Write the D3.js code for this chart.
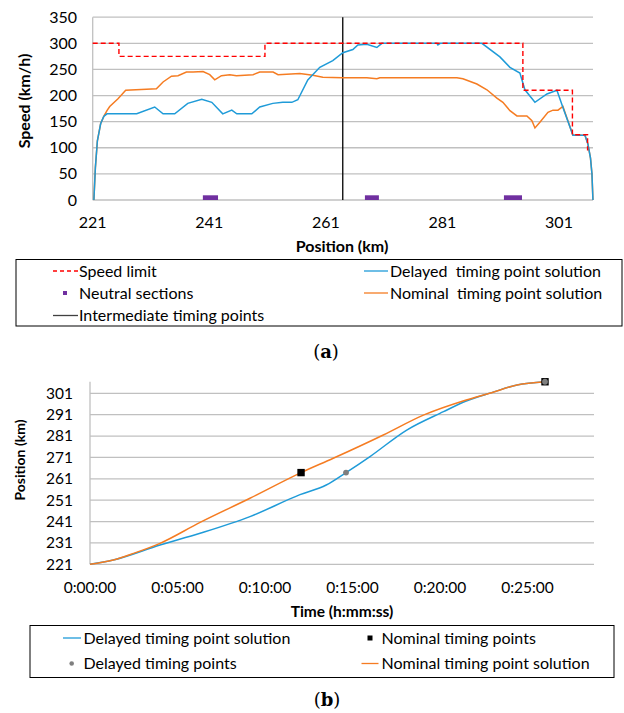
<!DOCTYPE html>
<html>
<head>
<meta charset="utf-8">
<script src="https://cdn.jsdelivr.net/npm/d3@7"></script>
<style>
  body { margin: 0; background: #fff; }
  text { font-family: Lato, "Open Sans", sans-serif; fill: #000; }
</style>
</head>
<body>
<svg id="chart" width="624" height="713"></svg>
<script>
// ---- (a) speed profile data ----
const speedTicks = [0, 50, 100, 150, 200, 250, 300, 350];
const posTicks = [221, 241, 261, 281, 301];

const limitKm = [221, 225.5, 250.55, 294.8, 303.3, 305.9];
const limitSpeed = [300, 275, 300, 210, 125, 95];

const neutralStart = [239.9, 267.7, 291.55];
const neutralEnd = [242.5, 270.1, 294.65];

const timingPointKm = [263.9];

const delayedKm = [221.2, 221.46, 221.8, 222.36, 222.9, 223.45, 228.55, 231.64, 233.07, 235.07, 237.31, 239.71, 241.43, 243.31, 244.86, 245.72, 248.29, 249.66, 251.9, 253.61, 255.16, 256.19, 257.9, 259.96, 262.19, 263.91, 265.63, 266.49, 268.03, 269.75, 270.61, 280.05, 280.22, 280.6, 287.77, 290.86, 292.58, 294.29, 295.15, 296.87, 298.93, 300.64, 301.67, 303.39, 305.45, 305.96, 306.4, 306.65, 306.82];
const delayedSpeed = [0, 62, 113, 146, 160, 165, 165, 178, 165, 165, 185, 193, 187, 165, 172, 165, 165, 178, 185, 187, 187, 192, 230, 254, 267, 282, 288, 297, 298, 292, 300, 300, 297, 300, 300, 274, 254, 243, 211, 187, 203, 210, 177, 124, 124, 107, 80, 50, 0];

const nominalKm = [221.2, 221.46, 221.8, 222.36, 222.9, 223.45, 223.92, 225.34, 226.66, 230.22, 231.93, 233.07, 234.51, 235.64, 237.08, 238.22, 239.93, 241.08, 241.94, 243.09, 244.52, 245.66, 248.51, 249.66, 251.95, 252.8, 256.53, 258.76, 260.48, 263.91, 268.03, 269.75, 270.26, 283.48, 284.51, 286.91, 288.63, 290.34, 291.37, 292.58, 293.78, 295.49, 296.35, 296.87, 297.72, 299.1, 299.96, 300.82, 301.67, 303.39, 305.45, 305.96, 306.4, 306.65, 306.82];
const nominalSpeed = [0, 62, 113, 146, 160, 171, 179, 194, 210, 212, 213, 226, 237, 238, 245, 245, 246, 240, 230, 238, 240, 238, 240, 245, 245, 240, 242, 239, 235, 234, 234, 232, 234, 234, 232, 222, 211, 195, 187, 171, 161, 161, 152, 138, 149, 168, 172, 172, 179, 124, 124, 107, 80, 50, 0];

// ---- (b) position vs time data (minutes, km) ----
const kmTicks = [221, 231, 241, 251, 261, 271, 281, 291, 301];
const timeTicks = [0, 5, 10, 15, 20, 25];
const timeTickLabels = ["0:00:00", "0:05:00", "0:10:00", "0:15:00", "0:20:00", "0:25:00"];

const delayedTime = [0, 1.33, 4, 6.29, 9.14, 12, 13.5, 14.63, 16, 18.1, 20.2, 21.5, 22.95, 24.4, 26];
const delayedPos = [221, 223, 230, 235.5, 243.3, 253.6, 258.1, 263.9, 271.4, 283.8, 292.4, 297.4, 301.3, 304.9, 306.4];

const nominalTime = [0, 1.33, 2.48, 4, 6.29, 9.14, 12.06, 13.9, 16.76, 19.05, 21.5, 22.95, 24.4, 26];
const nominalPos = [221, 223, 226.1, 230.8, 240.6, 251.9, 263.9, 270.6, 281.5, 290.8, 297.9, 301.3, 304.9, 306.4];

const nominalPtTime = [12.06, 26];
const nominalPtPos = [263.9, 306.4];
const delayedPtTime = [14.63, 26];
const delayedPtPos = [263.9, 306.4];

const BLUE = "#1f9bd8", ORANGE = "#f57c22", RED = "#ff0000", PURPLE = "#7030a0", GRID = "#c0c0c0";

const svg = d3.select("#chart");

// ================= chart (a) =================
const xa = d3.scaleLinear().domain([221, 306.83]).range([92.7, 593]);
const ya = d3.scaleLinear().domain([0, 350]).range([200, 17.2]);
const ga = svg.append("g");

ga.selectAll(".grid").data(speedTicks).enter().append("line")
  .attr("x1", xa(221)).attr("x2", xa(306.83))
  .attr("y1", d => ya(d)).attr("y2", d => ya(d))
  .attr("stroke", GRID).attr("stroke-width", 1.3);
ga.append("line").attr("x1", xa(221)).attr("x2", xa(221))
  .attr("y1", ya(0)).attr("y2", ya(350)).attr("stroke", GRID).attr("stroke-width", 1.3);

ga.selectAll(".yt").data(speedTicks).enter().append("text")
  .attr("x", 77).attr("y", d => ya(d)).attr("dy", "0.35em")
  .attr("text-anchor", "end").style("font-size", "16px").text(d => d);
ga.selectAll(".xt").data(posTicks).enter().append("text")
  .attr("x", d => xa(d)).attr("y", 228)
  .attr("text-anchor", "middle").style("font-size", "16px").text(d => d);

ga.append("text").attr("transform", "translate(30,101) rotate(-90)")
  .attr("text-anchor", "middle").style("font-size", "16px").style("font-weight", "bold")
  .text("Speed (km/h)");
ga.append("text").attr("x", 342).attr("y", 252)
  .attr("text-anchor", "middle").style("font-size", "16px").style("font-weight", "bold")
  .text("Position (km)");

// neutral sections
ga.selectAll(".ns").data(neutralStart).enter().append("rect")
  .attr("x", d => xa(d)).attr("width", (d, i) => xa(neutralEnd[i]) - xa(d))
  .attr("y", ya(9)).attr("height", ya(0) - ya(9)).attr("fill", PURPLE);

// intermediate timing point
ga.selectAll(".tp").data(timingPointKm).enter().append("line")
  .attr("x1", d => xa(d)).attr("x2", d => xa(d))
  .attr("y1", ya(0)).attr("y2", ya(350)).attr("stroke", "#000").attr("stroke-width", 1.3);

const lineA = d3.line().x(d => xa(d[0])).y(d => ya(d[1]));
ga.append("path").datum(d3.zip(nominalKm, nominalSpeed)).attr("d", lineA)
  .attr("fill", "none").attr("stroke", ORANGE).attr("stroke-width", 1.5);
ga.append("path").datum(d3.zip(delayedKm, delayedSpeed)).attr("d", lineA)
  .attr("fill", "none").attr("stroke", BLUE).attr("stroke-width", 1.5);
ga.append("path").datum(d3.zip(limitKm, limitSpeed))
  .attr("d", d3.line().curve(d3.curveStepAfter).x(d => xa(d[0])).y(d => ya(d[1])))
  .attr("fill", "none").attr("stroke", RED).attr("stroke-width", 1.4).attr("stroke-dasharray", "5,3");

// legend (a)
const la = svg.append("g");
la.append("rect").attr("x", 16).attr("y", 259.5).attr("width", 606).attr("height", 66.5)
  .attr("fill", "none").attr("stroke", "#000").attr("stroke-width", 1);
la.append("line").attr("x1", 53).attr("x2", 78).attr("y1", 271).attr("y2", 271)
  .attr("stroke", RED).attr("stroke-width", 1.3).attr("stroke-dasharray", "4,3");
la.append("rect").attr("x", 63).attr("y", 291).attr("width", 4).attr("height", 4).attr("fill", PURPLE);
la.append("line").attr("x1", 53).attr("x2", 78).attr("y1", 315.5).attr("y2", 315.5)
  .attr("stroke", "#404040").attr("stroke-width", 1.3);
la.append("line").attr("x1", 364).attr("x2", 388).attr("y1", 271).attr("y2", 271)
  .attr("stroke", BLUE).attr("stroke-width", 1.3);
la.append("line").attr("x1", 364).attr("x2", 388).attr("y1", 293).attr("y2", 293)
  .attr("stroke", ORANGE).attr("stroke-width", 1.3);
const legA = [["Speed limit", 79, 271], ["Neutral sections", 79, 293], ["Intermediate timing points", 79, 315.5],
  ["Delayed  timing point solution", 390, 271], ["Nominal  timing point solution", 390, 293]];
la.selectAll("text").data(legA).enter().append("text")
  .attr("x", d => d[1]).attr("y", d => d[2]).attr("dy", "0.35em")
  .style("font-size", "16px").style("white-space", "pre").text(d => d[0]);

svg.append("text").attr("x", 326).attr("y", 358).attr("text-anchor", "middle")
  .style("font-family", "'DejaVu Serif', serif").style("font-size", "18px")
  .html("(<tspan font-weight='bold'>a</tspan>)");

// ================= chart (b) =================
const xb = d3.scaleLinear().domain([0, 28.8]).range([90, 594]);
const yb = d3.scaleLinear().domain([221, 301]).range([564.3, 393.3]);
const gb = svg.append("g");

gb.selectAll(".grid").data(kmTicks).enter().append("line")
  .attr("x1", xb(0)).attr("x2", xb(28.8))
  .attr("y1", d => yb(d)).attr("y2", d => yb(d))
  .attr("stroke", GRID).attr("stroke-width", 1.3);
gb.append("line").attr("x1", xb(0)).attr("x2", xb(0))
  .attr("y1", yb(221)).attr("y2", yb(306.4)).attr("stroke", GRID).attr("stroke-width", 1.3);

gb.selectAll(".yt").data(kmTicks).enter().append("text")
  .attr("x", 73).attr("y", d => yb(d)).attr("dy", "0.35em")
  .attr("text-anchor", "end").style("font-size", "15.5px").text(d => d);
gb.selectAll(".xt").data(timeTicks).enter().append("text")
  .attr("x", d => xb(d)).attr("y", 593)
  .attr("text-anchor", "middle").style("font-size", "15.5px").text((d, i) => timeTickLabels[i]);

gb.append("text").attr("transform", "translate(25,460) rotate(-90)")
  .attr("text-anchor", "middle").style("font-size", "14px").style("font-weight", "bold")
  .text("Position (km)");
gb.append("text").attr("x", 342).attr("y", 617)
  .attr("text-anchor", "middle").style("font-size", "15.5px").style("font-weight", "bold")
  .text("Time (h:mm:ss)");

const lineB = d3.line().curve(d3.curveMonotoneX).x(d => xb(d[0])).y(d => yb(d[1]));
gb.append("path").datum(d3.zip(delayedTime, delayedPos)).attr("d", lineB)
  .attr("fill", "none").attr("stroke", BLUE).attr("stroke-width", 1.5);
gb.append("path").datum(d3.zip(nominalTime, nominalPos)).attr("d", lineB)
  .attr("fill", "none").attr("stroke", ORANGE).attr("stroke-width", 1.5);

gb.selectAll(".np").data(d3.zip(nominalPtTime, nominalPtPos)).enter().append("rect")
  .attr("x", d => xb(d[0]) - 3.7).attr("y", d => yb(d[1]) - 3.7)
  .attr("width", 7.4).attr("height", 7.4).attr("fill", "#000");
gb.selectAll(".dp").data(d3.zip(delayedPtTime, delayedPtPos)).enter().append("circle")
  .attr("cx", d => xb(d[0])).attr("cy", d => yb(d[1])).attr("r", 2.9).attr("fill", "#7f7f7f");

// legend (b)
const lb = svg.append("g");
lb.append("rect").attr("x", 30).attr("y", 625.5).attr("width", 584).attr("height", 52)
  .attr("fill", "none").attr("stroke", "#000").attr("stroke-width", 1);
lb.append("line").attr("x1", 63).attr("x2", 81).attr("y1", 638).attr("y2", 638)
  .attr("stroke", BLUE).attr("stroke-width", 1.3);
lb.append("circle").attr("cx", 71.7).attr("cy", 663.5).attr("r", 2.3).attr("fill", "#7f7f7f");
lb.append("rect").attr("x", 367.5).attr("y", 635.5).attr("width", 5).attr("height", 5).attr("fill", "#000");
lb.append("line").attr("x1", 361.5).attr("x2", 378.5).attr("y1", 663.5).attr("y2", 663.5)
  .attr("stroke", ORANGE).attr("stroke-width", 1.3);
const legB = [["Delayed timing point solution", 83.5, 638], ["Delayed timing points", 83.5, 663.5],
  ["Nominal timing points", 381.5, 638], ["Nominal timing point solution", 381.5, 663.5]];
lb.selectAll("text").data(legB).enter().append("text")
  .attr("x", d => d[1]).attr("y", d => d[2]).attr("dy", "0.35em")
  .style("font-size", "16px").text(d => d[0]);

svg.append("text").attr("x", 327).attr("y", 706).attr("text-anchor", "middle")
  .style("font-family", "'DejaVu Serif', serif").style("font-size", "18px")
  .html("(<tspan font-weight='bold'>b</tspan>)");
</script>
</body>
</html>
